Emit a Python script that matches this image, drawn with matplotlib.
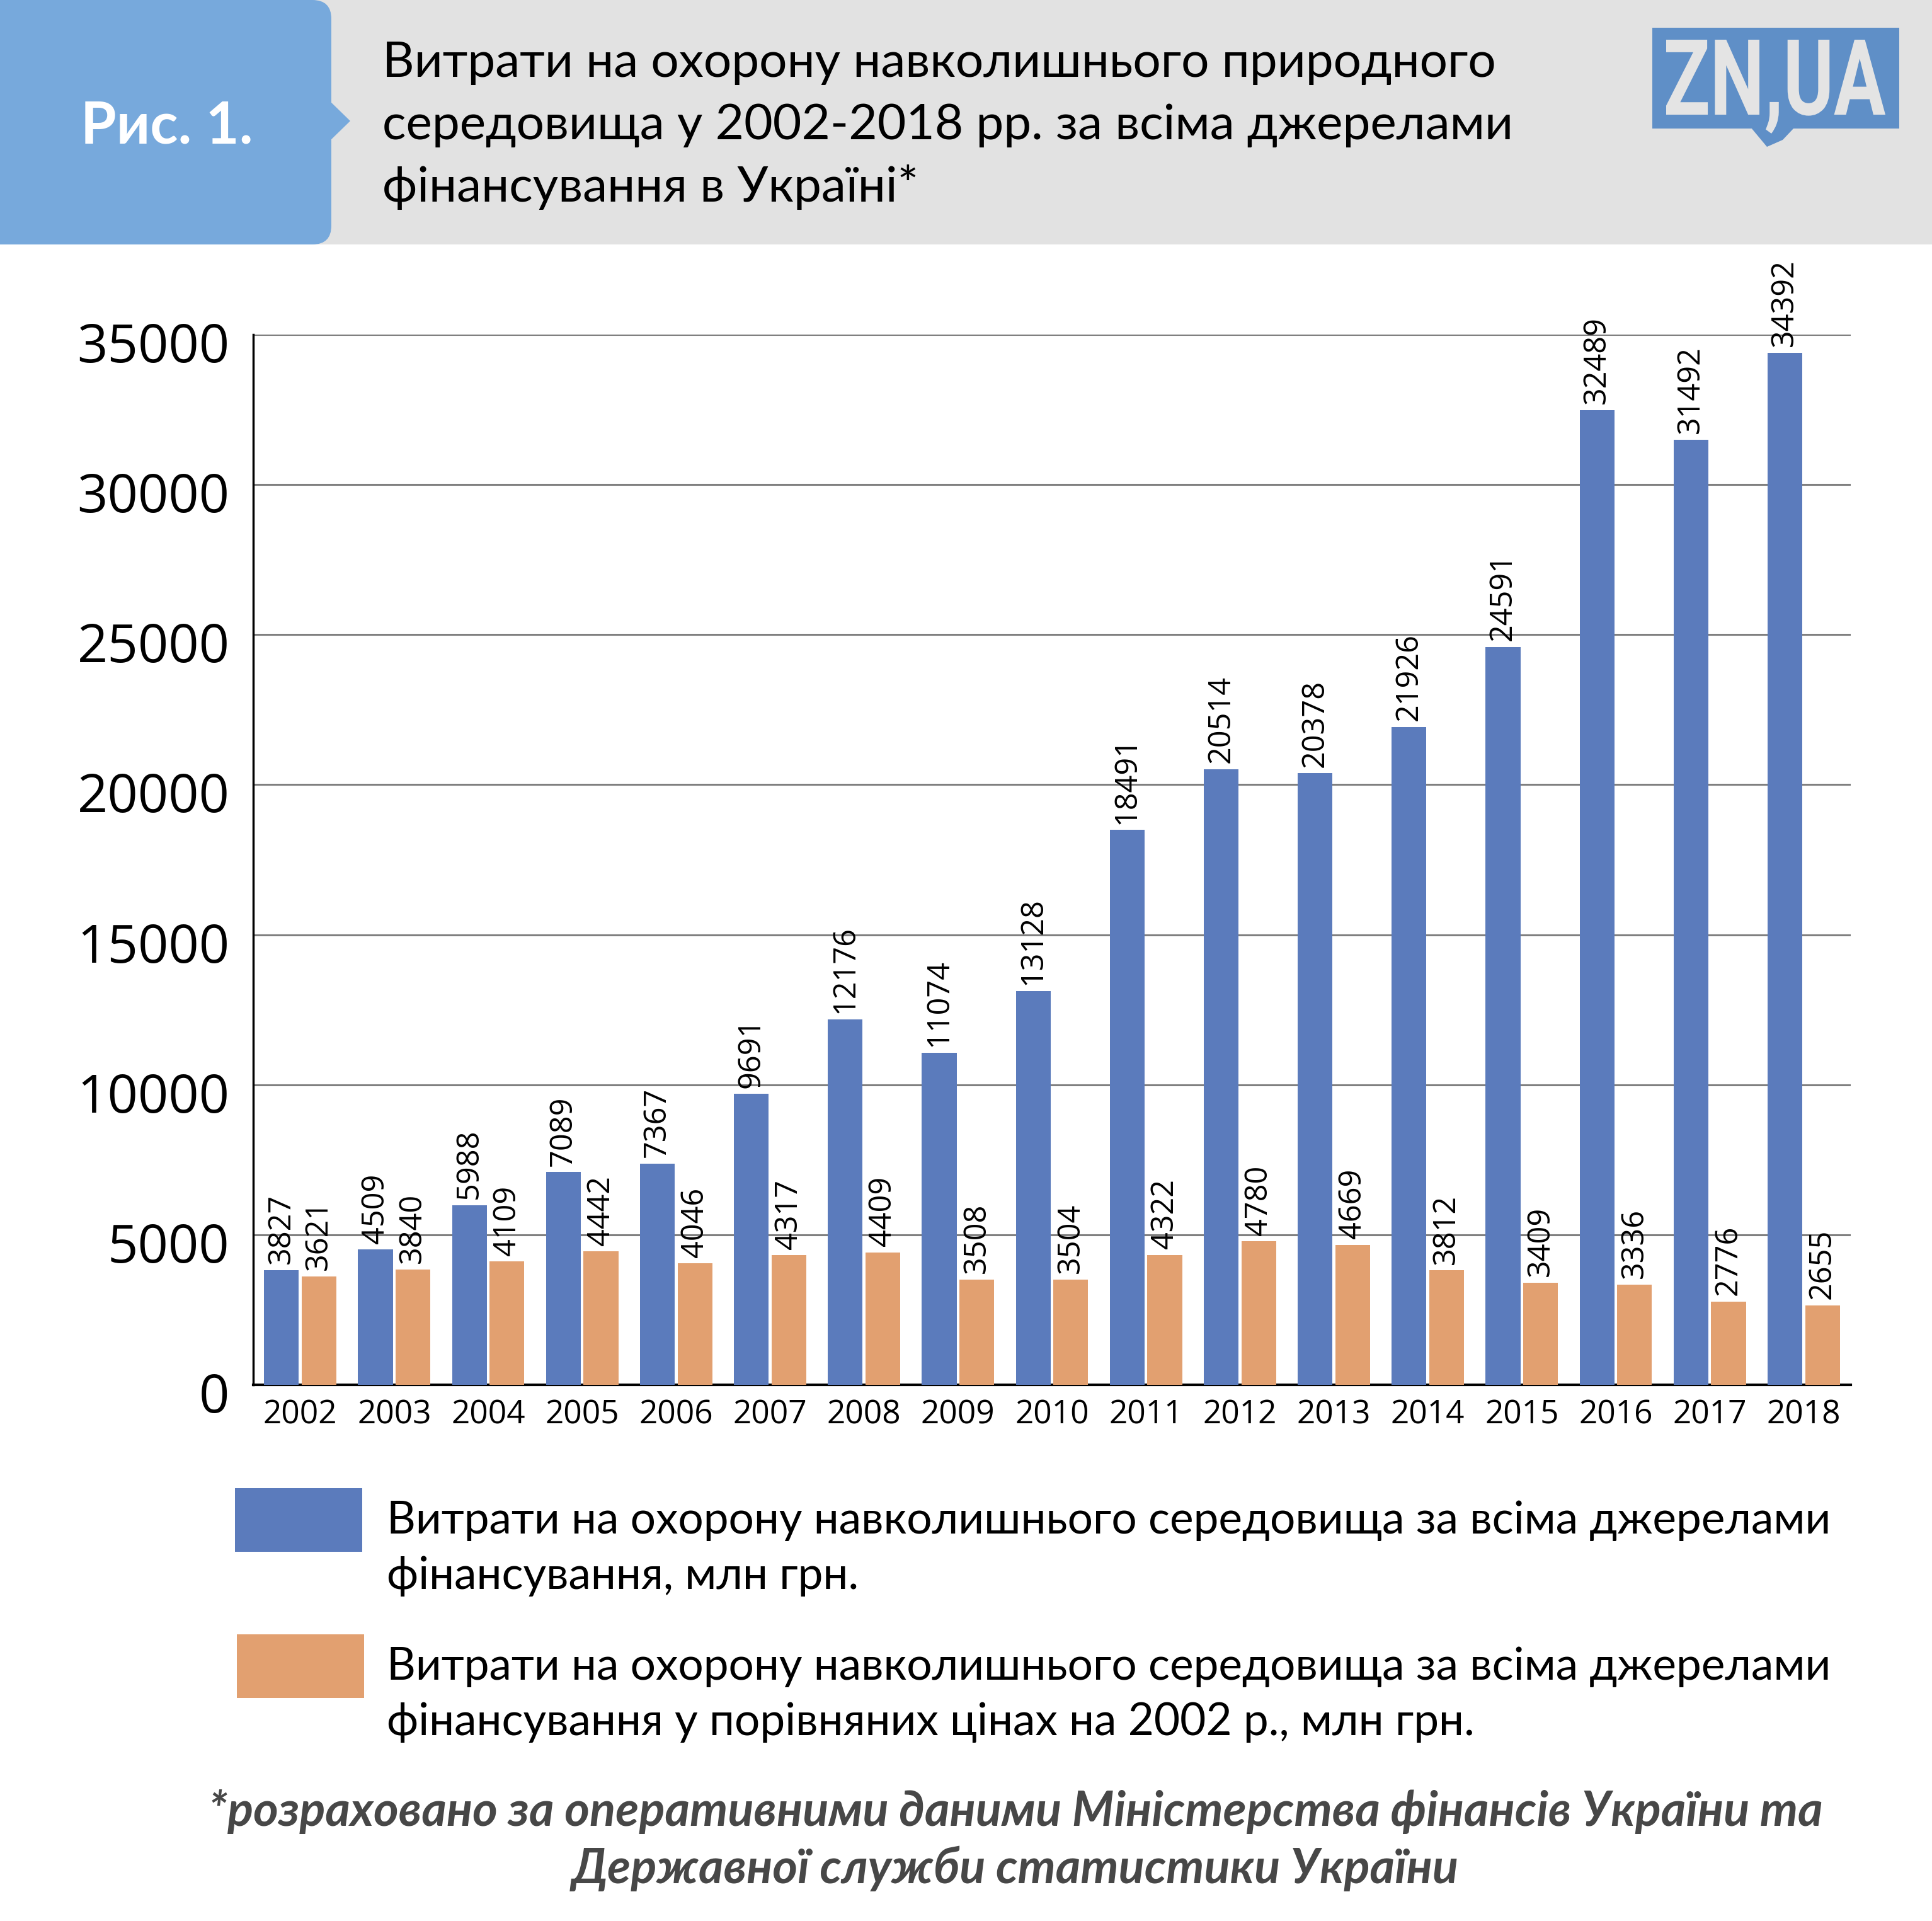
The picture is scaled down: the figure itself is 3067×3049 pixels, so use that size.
import matplotlib
matplotlib.use("Agg")
import matplotlib.pyplot as plt
import numpy as np
from matplotlib.patches import Rectangle, FancyBboxPatch, Polygon, PathPatch
from matplotlib.textpath import TextPath
from matplotlib.font_manager import FontProperties
from matplotlib.transforms import Affine2D, ScaledTranslation

# дані
years = [str(y) for y in range(2002, 2019)]
total = [3827, 4509, 5988, 7089, 7367, 9691, 12176, 11074, 13128,
         18491, 20514, 20378, 21926, 24591, 32489, 31492, 34392]
real_2002 = [3621, 3840, 4109, 4442, 4046, 4317, 4409, 3508, 3504,
             4322, 4780, 4669, 3812, 3409, 3336, 2776, 2655]
y_ticks = list(range(0, 35001, 5000))

title_lines = ["Витрати на охорону навколишнього природного",
               "середовища у 2002-2018 рр. за всіма джерелами",
               "фінансування в Україні*"]
legend_items = [
    ["Витрати на охорону навколишнього середовища за всіма джерелами",
     "фінансування, млн грн."],
    ["Витрати на охорону навколишнього середовища за всіма джерелами",
     "фінансування у порівняних цінах на 2002 р., млн грн."],
]
note_lines = ["*розраховано за оперативними даними Міністерства фінансів України та",
              "Державної служби статистики України"]

BLUE = "#5B7BBC"
ORANGE = "#E2A070"
W, H = 3067, 3049

fig = plt.figure(figsize=(W / 100, H / 100), dpi=100)
fig.patch.set_facecolor("white")

# фон / шапка в піксельних координатах
bg = fig.add_axes([0, 0, 1, 1])
bg.set_xlim(0, W)
bg.set_ylim(H, 0)
bg.set_axis_off()
bg.patch.set_alpha(0)

bg.add_patch(Rectangle((0, 0), W, 388, color="#E2E2E2", lw=0))
bg.add_patch(FancyBboxPatch((-80, 0), 606, 388,
                            boxstyle="round,pad=0,rounding_size=30",
                            color="#77A9DC", lw=0))
bg.add_patch(Polygon([(520, 157), (556, 192), (520, 227)], color="#77A9DC", lw=0))
bg.text(265, 227, "Рис. 1.", color="white", fontsize=66, fontweight="bold",
        family="Lato", ha="center", va="baseline")

for i, line in enumerate(title_lines):
    bg.text(607, 122 + i * 99, line, fontsize=56.5, family="Lato",
            color="black", ha="left", va="baseline")

# логотип
bg.add_patch(Rectangle((2623, 44), 392, 160, color="#5F8FC7", lw=0))
bg.add_patch(Polygon([(2780, 203), (2848, 203), (2830, 222), (2805, 233)],
                     color="#5F8FC7", lw=0))
tp = TextPath((0, 0), "ZN,UA", size=100, prop=FontProperties(family="Roboto", weight="bold"))
ext = tp.get_extents()
sx = 348 / ext.width
sy = 119 / 71.1
tr = Affine2D().translate(-ext.x0, 0).scale(sx, -sy).translate(2645, 182)
bg.add_patch(PathPatch(tr.transform_path(tp), color="#E4E4E4", lw=0))

# легенда
for k, (col, lines) in enumerate(zip([BLUE, ORANGE], legend_items)):
    y0 = 2362 + k * 232
    bg.add_patch(Rectangle((373 + 3 * k, y0), 202, 101, color=col, lw=0))
    for j, line in enumerate(lines):
        bg.text(614, 2434 + k * 232 + j * 88, line, fontsize=51.2, family="Lato",
                color="black", ha="left", va="baseline")

# примітка
for j, line in enumerate(note_lines):
    bg.text(1612, 2898 + j * 91, line, fontsize=54.7, family="Lato",
            fontweight="bold", style="italic", color="#474747",
            ha="center", va="baseline")

# основний графік
ax = fig.add_axes([402 / W, 1 - 2198 / H, (2938 - 402) / W, (2198 - 531) / H])
x = np.arange(len(years))
bw = 0.37
b1 = ax.bar(x - 0.2, total, bw, color=BLUE, zorder=3)
b2 = ax.bar(x + 0.2, real_2002, bw, color=ORANGE, zorder=3)

for bars, vals in [(b1, total), (b2, real_2002)]:
    for rect, v in zip(bars, vals):
        ax.annotate(str(v), (rect.get_x() + rect.get_width() / 2, v),
                    xytext=(0, 7), textcoords="offset points",
                    rotation=90, ha="center", va="bottom",
                    fontsize=35, family="Open Sans")

ax.set_xlim(-0.5, len(years) - 0.5)
ax.set_ylim(0, 35000)
ax.set_xticks(x)
ax.set_xticklabels(years, fontsize=37, family="Open Sans")
ax.set_yticks(y_ticks)
ax.set_yticklabels([str(t) for t in y_ticks], fontsize=61, family="Open Sans")
ax.tick_params(axis="x", length=0, pad=16)
ax.tick_params(axis="y", length=0, pad=27)
shift = ScaledTranslation(0, -0.12, fig.dpi_scale_trans)
for lbl in ax.get_yticklabels():
    lbl.set_transform(lbl.get_transform() + shift)
ax.yaxis.grid(True, color="#808080", linewidth=2.2, zorder=0)
ax.set_axisbelow(True)
ax.spines["top"].set_visible(False)
ax.spines["right"].set_visible(False)
ax.spines["left"].set_linewidth(2.5)
ax.spines["bottom"].set_linewidth(3)
ax.spines["left"].set_color("black")
ax.spines["bottom"].set_color("black")
ax.patch.set_alpha(0)

fig.savefig("out.png", dpi=100)
